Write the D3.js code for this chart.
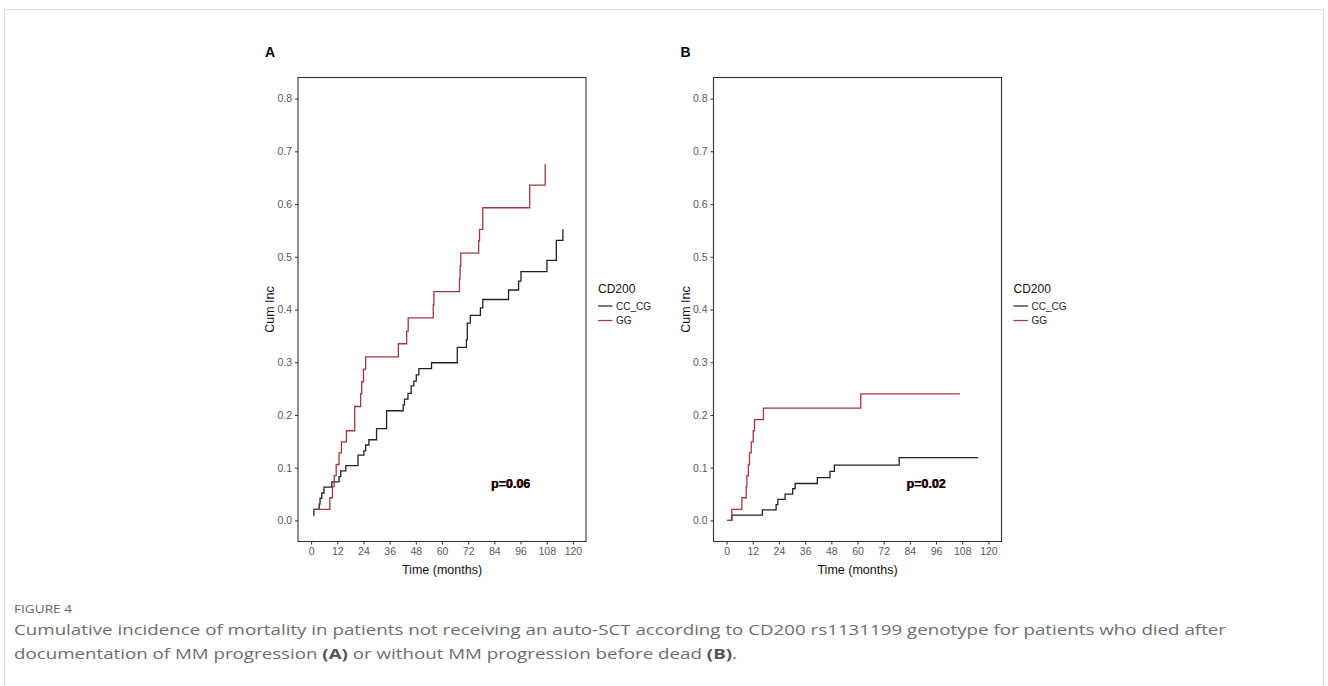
<!DOCTYPE html>
<html>
<head>
<meta charset="utf-8">
<script src="https://cdn.jsdelivr.net/npm/d3@7"></script>
<style>
  body { margin: 0; background: #fff; }
  svg text { font-family: "Liberation Sans", Arial, sans-serif; }
</style>
</head>
<body>
<svg id="fig" width="1328" height="686"></svg>
<script>
// tick labels
var timeTicks = [0, 12, 24, 36, 48, 60, 72, 84, 96, 108, 120];
var cumTicks = [0.0, 0.1, 0.2, 0.3, 0.4, 0.5, 0.6, 0.7, 0.8];
var groups = ["CC_CG", "GG"];

// panel A: died after MM progression, [months, cum inc]
var aCcCg = [[0.9, 0.010], [1.3, 0.021], [3.7, 0.031], [4.1, 0.042], [4.9, 0.052], [5.9, 0.063],
  [9.5, 0.073], [12.8, 0.083], [13.6, 0.094], [15.9, 0.104], [21.5, 0.124], [24.2, 0.132],
  [25.0, 0.143], [26.5, 0.153], [30.0, 0.174], [34.6, 0.208], [42.2, 0.219], [42.8, 0.230],
  [44.4, 0.241], [45.9, 0.255], [47.1, 0.264], [48.2, 0.276], [49.4, 0.288], [55.2, 0.299],
  [67.0, 0.328], [71.2, 0.343], [71.6, 0.374], [73.0, 0.389], [77.6, 0.403], [78.7, 0.419],
  [90.5, 0.437], [95.1, 0.454], [96.2, 0.472], [108.1, 0.493], [112.4, 0.531], [115.4, 0.552]];
var aGg = [[1.5, 0.021], [8.6, 0.043], [9.8, 0.064], [10.6, 0.085], [11.5, 0.106], [12.8, 0.128],
  [13.9, 0.149], [16.2, 0.170], [20.0, 0.216], [22.7, 0.240], [23.2, 0.263], [24.0, 0.287],
  [25.0, 0.310], [40.0, 0.335], [43.8, 0.359], [44.5, 0.384], [56.0, 0.409], [56.3, 0.434],
  [68.0, 0.458], [68.3, 0.482], [68.6, 0.507], [76.8, 0.530], [77.2, 0.552], [78.7, 0.593],
  [100.2, 0.636], [107.3, 0.676]];

// panel B: died without MM progression
var bCcCg = [[0.4, 0], [2.4, 0.010], [16.4, 0.020], [22.7, 0.030], [23.5, 0.040], [26.8, 0.050],
  [30.3, 0.060], [31.4, 0.070], [41.6, 0.081], [47.4, 0.093], [49.4, 0.105], [79.1, 0.119],
  [115.3, 0.119]];
var bGg = [[0.4, 0], [2.4, 0.021], [7.0, 0.043], [9.0, 0.064], [9.3, 0.085], [10.0, 0.106],
  [10.5, 0.128], [11.3, 0.149], [12.2, 0.170], [12.8, 0.191], [16.9, 0.213], [61.5, 0.240],
  [106.9, 0.240]];

var pValues = ["p=0.06", "p=0.02"];
var panelLetters = ["A", "B"];

var colors = { "CC_CG": "#222222", "GG": "#a0393b" };

var svg = d3.select("#fig");

// outer figure border
svg.append("rect")
  .attr("x", 4.5).attr("y", 9.5)
  .attr("width", 1319).attr("height", 700)
  .attr("fill", "none")
  .attr("stroke", "#dcdcdc");

function drawPanel(left, letter, series, pText) {
  var w = 288, h = 464, top = 77.5;
  var g = svg.append("g").attr("transform", "translate(" + left + "," + top + ")");

  var x = d3.scaleLinear().domain([-6, 126]).range([0, w]);
  var y = d3.scaleLinear().domain([-0.04, 0.84]).range([h, 0]);

  var yAxis = d3.axisLeft(y).tickValues(cumTicks).tickFormat(d3.format(".1f")).tickSize(3).tickPadding(3);
  var xAxis = d3.axisBottom(x).tickValues(timeTicks).tickSize(3).tickPadding(3.5);

  var ya = g.append("g").call(yAxis);
  var xa = g.append("g").attr("transform", "translate(0," + h + ")").call(xAxis);
  [ya, xa].forEach(function(a) {
    a.select(".domain").remove();
    a.selectAll(".tick line").attr("stroke", "#333");
    a.selectAll(".tick text").attr("fill", "#595959").style("font-size", "10.5px");
  });

  var line = d3.line()
    .x(function(d) { return x(d[0]); })
    .y(function(d) { return y(d[1]); })
    .curve(d3.curveStepAfter);

  series.forEach(function(s) {
    g.append("path")
      .datum(s.data)
      .attr("fill", "none")
      .attr("stroke", colors[s.name])
      .attr("stroke-width", 1.3)
      .attr("d", line);
  });

  g.append("rect")
    .attr("x", 0).attr("y", 0).attr("width", w).attr("height", h)
    .attr("fill", "none").attr("stroke", "#333").attr("stroke-width", 1.1);

  // p-value
  g.append("text").attr("x", x(82.3)).attr("y", y(0.062))
    .attr("fill", "#8b1c1c").style("font-size", "12.5px").style("font-weight", "bold")
    .text(pText);
  g.append("text").attr("x", x(82.6)).attr("y", y(0.062))
    .attr("fill", "#000").style("font-size", "12.5px").style("font-weight", "bold")
    .text(pText);

  // axis titles
  g.append("text")
    .attr("transform", "translate(-28," + (h / 2) + ") rotate(-90)")
    .attr("text-anchor", "middle").attr("dy", "0.35em")
    .style("font-size", "12.5px").attr("fill", "#111")
    .text("Cum Inc");
  g.append("text")
    .attr("x", w / 2).attr("y", h + 32)
    .attr("text-anchor", "middle")
    .style("font-size", "12.5px").attr("fill", "#111")
    .text("Time (months)");

  // panel letter
  svg.append("text")
    .attr("x", left - 33).attr("y", 57)
    .style("font-size", "14px").style("font-weight", "bold")
    .text(letter);

  // legend
  var lg = g.append("g").attr("transform", "translate(" + (w + 12) + ",0)");
  lg.append("text").attr("x", 0).attr("y", 215)
    .style("font-size", "12px").attr("fill", "#111").text("CD200");
  groups.forEach(function(name, i) {
    var ly = 228.5 + i * 14.5;
    lg.append("line").attr("x1", 0).attr("x2", 14.5).attr("y1", ly).attr("y2", ly)
      .attr("stroke", colors[name]).attr("stroke-width", 1.2);
    lg.append("text").attr("x", 18).attr("y", ly).attr("dy", "0.35em")
      .style("font-size", "10px").attr("fill", "#222").text(name);
  });
}

drawPanel(298, panelLetters[0], [{ name: "CC_CG", data: aCcCg }, { name: "GG", data: aGg }], pValues[0]);
drawPanel(713.5, panelLetters[1], [{ name: "CC_CG", data: bCcCg }, { name: "GG", data: bGg }], pValues[1]);

// caption
var cap = svg.append("g");
cap.append("text").attr("x", 14).attr("y", 613)
  .style("font-family", "'Open Sans', sans-serif").style("font-size", "11.5px")
  .attr("fill", "#666")
  .attr("textLength", 58).attr("lengthAdjust", "spacingAndGlyphs")
  .text("FIGURE 4");
cap.append("text").attr("x", 14).attr("y", 635)
  .style("font-family", "'Open Sans', sans-serif").style("font-size", "14.5px")
  .attr("fill", "#6e6e6e")
  .attr("textLength", 1212).attr("lengthAdjust", "spacingAndGlyphs")
  .text("Cumulative incidence of mortality in patients not receiving an auto-SCT according to CD200 rs1131199 genotype for patients who died after");
var l2 = cap.append("text").attr("x", 14).attr("y", 659)
  .style("font-family", "'Open Sans', sans-serif").style("font-size", "14.5px")
  .attr("fill", "#6e6e6e")
  .attr("textLength", 723).attr("lengthAdjust", "spacingAndGlyphs");
l2.append("tspan").text("documentation of MM progression ");
l2.append("tspan").style("font-weight", "bold").attr("fill", "#555").text("(A)");
l2.append("tspan").text(" or without MM progression before dead ");
l2.append("tspan").style("font-weight", "bold").attr("fill", "#555").text("(B)");
l2.append("tspan").text(".");
</script>
</body>
</html>
